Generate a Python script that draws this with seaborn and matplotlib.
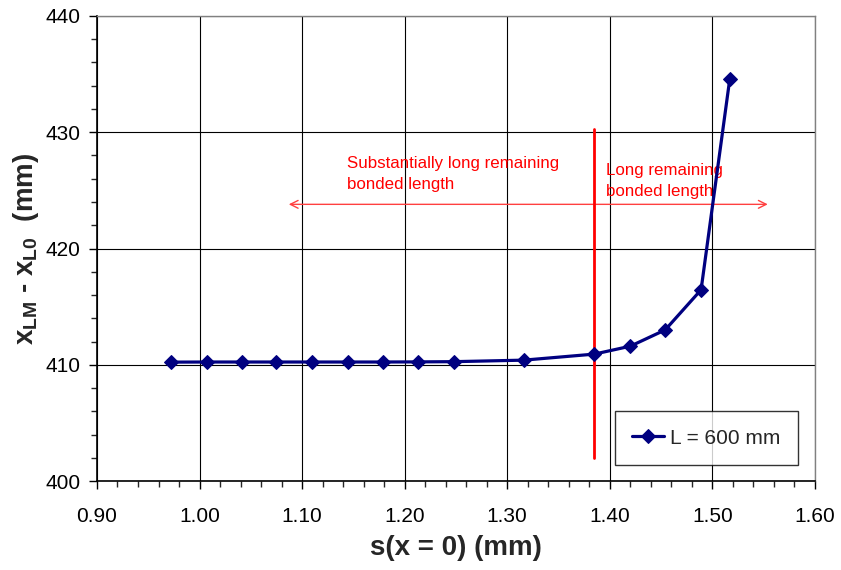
import matplotlib
matplotlib.use("Agg")
import matplotlib.pyplot as plt
import seaborn as sns
import pandas as pd
from matplotlib.ticker import MultipleLocator, FormatStrFormatter

# Slip at the loaded end and resulting effective bond length shift
s0 = [0.972, 1.007, 1.041, 1.075, 1.110, 1.145, 1.179, 1.213, 1.248,
      1.316, 1.385, 1.420, 1.454, 1.489, 1.517]
dx = [410.23, 410.24, 410.24, 410.24, 410.24, 410.24, 410.24, 410.25, 410.27,
      410.40, 410.92, 411.60, 413.00, 416.45, 434.60]
series_label = "L = 600 mm"

boundary_s = 1.385
text_left = "Substantially long remaining\nbonded length"
text_right = "Long remaining\nbonded length"

df = pd.DataFrame({"s": s0, "dx": dx, "case": series_label})

sns.set_style("white")
plt.rcParams["font.family"] = ["Liberation Sans", "DejaVu Sans"]
plt.rcParams["mathtext.fontset"] = "custom"
plt.rcParams["mathtext.rm"] = "Liberation Sans"
plt.rcParams["mathtext.bf"] = "Liberation Sans:bold"

fig = plt.figure(figsize=(8.41, 5.70), dpi=100)
ax = fig.add_axes([0.1153, 0.156, 0.8537, 0.816])

sns.lineplot(data=df, x="s", y="dx", hue="case", palette=["#000080"],
             marker="D", markersize=7, markeredgecolor="#000080",
             linewidth=2.3, ax=ax, zorder=5)

ax.set_xlim(0.90, 1.60)
ax.set_ylim(400, 440)
ax.xaxis.set_major_locator(MultipleLocator(0.10))
ax.xaxis.set_minor_locator(MultipleLocator(0.02))
ax.yaxis.set_major_locator(MultipleLocator(10))
ax.yaxis.set_minor_locator(MultipleLocator(2))
ax.xaxis.set_major_formatter(FormatStrFormatter("%.2f"))
ax.yaxis.set_major_formatter(FormatStrFormatter("%d"))

ax.grid(which="major", color="#000000", linewidth=0.8)
ax.set_axisbelow(True)
ax.tick_params(which="major", direction="out", length=6, width=1,
               labelsize=15, colors="black", bottom=True, left=True)
ax.tick_params(axis="x", which="major", pad=13)
ax.tick_params(axis="y", which="major", pad=6)
ax.tick_params(which="minor", direction="out", length=4, width=1,
               bottom=True, left=True)
for side in ["left", "bottom"]:
    ax.spines[side].set_color("black")
    ax.spines[side].set_linewidth(1.2)
for side in ["right", "top"]:
    ax.spines[side].set_color("#808080")
    ax.spines[side].set_linewidth(1.0)

ax.set_xlabel("s(x = 0) (mm)", fontsize=20, fontweight="bold", labelpad=6)
ax.set_ylabel(r"x$_{\mathbf{LM}}$ - x$_{\mathbf{L0}}$  (mm)",
              fontsize=20, fontweight="bold", labelpad=3)

# Boundary between the two regimes
ax.plot([boundary_s, boundary_s], [402.0, 430.3], color="red", linewidth=2, zorder=4)
ax.annotate("", xy=(1.087, 423.8), xytext=(1.554, 423.8),
            arrowprops=dict(arrowstyle="<->", color="#ff4040", linewidth=1,
                            shrinkA=0, shrinkB=0, mutation_scale=14))
ax.text(1.144, 426.4, text_left, color="red", fontsize=12.2, va="center",
        ha="left", linespacing=1.45)
ax.text(1.396, 425.8, text_right, color="red", fontsize=12.2, va="center",
        ha="left", linespacing=1.45)

leg = ax.legend(loc="lower right", bbox_to_anchor=(0.9765, 0.034), fontsize=15,
                frameon=True, fancybox=False, edgecolor="black",
                handlelength=1.5, handletextpad=0.3, borderpad=0.85,
                borderaxespad=0.0)
leg.get_frame().set_linewidth(1.0)

fig.savefig("out.png", dpi=100)
